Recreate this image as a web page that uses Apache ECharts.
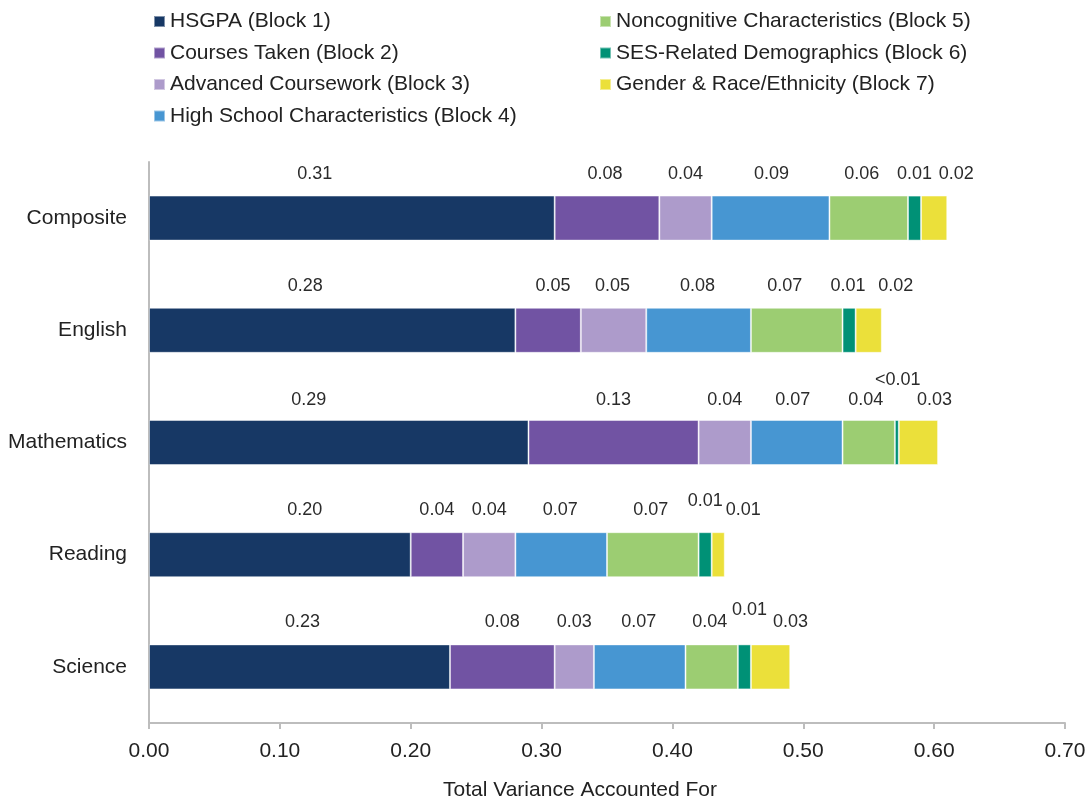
<!DOCTYPE html>
<html>
<head>
<meta charset="utf-8">
<script src="https://cdn.jsdelivr.net/npm/echarts@6/dist/echarts.min.js"></script>
<style>html,body{margin:0;padding:0;background:#fff}#c{width:1089px;height:802px}</style>
</head>
<body>
<div id="c"></div>
<script>
const categories = ['Composite', 'English', 'Mathematics', 'Reading', 'Science'];
const seriesNames = [
  'HSGPA (Block 1)',
  'Courses Taken (Block 2)',
  'Advanced Coursework (Block 3)',
  'High School Characteristics (Block 4)',
  'Noncognitive Characteristics (Block 5)',
  'SES-Related Demographics (Block 6)',
  'Gender & Race/Ethnicity (Block 7)'
];
const hsgpa    = [0.31, 0.28, 0.29, 0.20, 0.23];
const courses  = [0.08, 0.05, 0.13, 0.04, 0.08];
const advanced = [0.04, 0.05, 0.04, 0.04, 0.03];
const hsChar   = [0.09, 0.08, 0.07, 0.07, 0.07];
const noncog   = [0.06, 0.07, 0.04, 0.07, 0.04];
const ses      = [0.01, 0.01, 0.003, 0.01, 0.01];
const gender   = [0.02, 0.02, 0.03, 0.01, 0.03];
const sesLabels = ['0.01', '0.01', '<0.01', '0.01', '0.01'];
const xTicks = [0, 0.1, 0.2, 0.3, 0.4, 0.5, 0.6, 0.7];

// layout: label nudges [dx, dy] per series per category
const nudges = [
  [[-37,0],[-27,0],[-30,2],[25,0],[3,0]],
  [[-2,0],[5,0],[0,2],[0,0],[0,0]],
  [[0,0],[-1,0],[0,2],[0,0],[0,0]],
  [[1,0],[-1,0],[-4,2],[-1,0],[-1,0]],
  [[-7,0],[-12,0],[-3,2],[-2,0],[-2,0]],
  [[0,0],[-1,0],[1,-18],[0,-9],[5,-12]],
  [[22,0],[27,0],[16,2],[25,0],[20,0]]
];
const colors = ['#173865', '#7153a3', '#ad9bcb', '#4796d2', '#9ccd72', '#009176', '#ebe03a'];
const FONT = 'Liberation Sans';

const allValues = [hsgpa, courses, advanced, hsChar, noncog, ses, gender];
const series = allValues.map((vals, si) => ({
  name: seriesNames[si],
  type: 'bar',
  stack: 'total',
  barWidth: 45,
  itemStyle: { color: colors[si], borderColor: 'rgba(255,255,255,0.45)', borderWidth: 1 },
  data: vals.map((v, ci) => ({
    value: v,
    label: {
      show: true,
      position: 'top',
      distance: 13,
      offset: nudges[si][ci],
      formatter: si === 5 ? sesLabels[ci] : v.toFixed(2),
      color: '#2b2b2b',
      fontSize: 18,
      fontFamily: FONT
    }
  }))
}));

const chart = echarts.init(document.getElementById('c'));
chart.setOption({
  animation: false,
  color: colors,
  legend: [
    {
      data: seriesNames.slice(0, 4),
      orient: 'vertical', left: 148, top: 6,
      icon: 'rect', itemWidth: 11, itemHeight: 11, itemGap: 10.5,
      textStyle: { fontSize: 21, fontFamily: FONT, color: '#222', lineHeight: 21 }
    },
    {
      data: seriesNames.slice(4),
      orient: 'vertical', left: 594, top: 6,
      icon: 'rect', itemWidth: 11, itemHeight: 11, itemGap: 10.5,
      textStyle: { fontSize: 21, fontFamily: FONT, color: '#222', lineHeight: 21 }
    }
  ],
  grid: { left: 149, right: 24, top: 162, bottom: 79, containLabel: false, outerBoundsMode: 'none' },
  xAxis: {
    type: 'value', min: 0, max: 0.7, interval: 0.1,
    name: 'Total Variance Accounted For', nameLocation: 'middle', nameGap: 57,
    nameTextStyle: { fontSize: 21, fontFamily: FONT, color: '#222', padding: [0, 54, 0, 0] },
    axisLine: { show: true, lineStyle: { color: '#bdbdbd', width: 2 } },
    axisTick: { show: true, length: 6, lineStyle: { color: '#bdbdbd', width: 2 } },
    splitLine: { show: false },
    axisLabel: { fontSize: 21, fontFamily: FONT, color: '#222', margin: 18,
      formatter: v => v.toFixed(2) }
  },
  yAxis: {
    type: 'category', data: categories, inverse: true,
    axisLine: { show: true, lineStyle: { color: '#bdbdbd', width: 2 } },
    axisTick: { show: false },
    axisLabel: { fontSize: 21, fontFamily: FONT, color: '#222', margin: 22 }
  },
  series: series
});
</script>
</body>
</html>
